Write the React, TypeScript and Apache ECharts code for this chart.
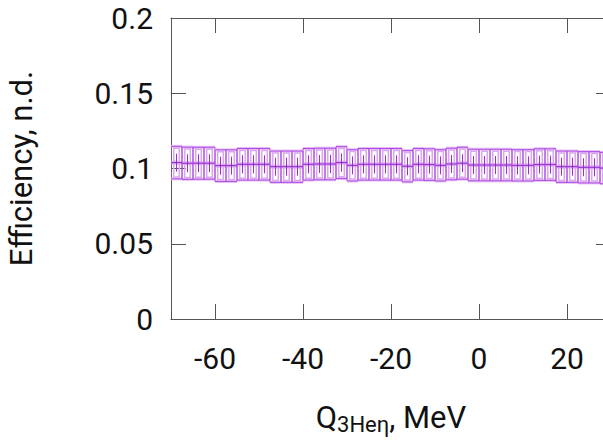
import React, { useEffect, useRef } from "react";
import * as echarts from "echarts";

const binCenters = [
  -68.75, -66.25, -63.75, -61.25, -58.75, -56.25, -53.75, -51.25, -48.75, -46.25,
  -43.75, -41.25, -38.75, -36.25, -33.75, -31.25, -28.75, -26.25, -23.75, -21.25,
  -18.75, -16.25, -13.75, -11.25, -8.75, -6.25, -3.75, -1.25, 1.25, 3.75,
  6.25, 8.75, 11.25, 13.75, 16.25, 18.75, 21.25, 23.75, 26.25, 28.75,
];
const efficiency = [
  0.1039, 0.1035, 0.1035, 0.1035, 0.1019, 0.1019, 0.1028, 0.1028, 0.1028, 0.1012,
  0.1012, 0.1012, 0.1028, 0.103, 0.103, 0.1039, 0.1021, 0.1028, 0.1028, 0.1028,
  0.1028, 0.1015, 0.1028, 0.1026, 0.1021, 0.103, 0.1035, 0.1023, 0.1023, 0.1023,
  0.1023, 0.1021, 0.1021, 0.1026, 0.1026, 0.1012, 0.1012, 0.1008, 0.1008, 0.1003,
];
const boxError = [
  0.0108, 0.0107, 0.0106, 0.0106, 0.0105, 0.0105, 0.0105, 0.0105, 0.0105, 0.0104,
  0.0104, 0.0104, 0.0105, 0.0105, 0.0105, 0.0106, 0.0104, 0.0105, 0.0105, 0.0105,
  0.0105, 0.0104, 0.0105, 0.0105, 0.0104, 0.0105, 0.0106, 0.0105, 0.0105, 0.0105,
  0.0105, 0.0104, 0.0104, 0.0105, 0.0105, 0.0104, 0.0104, 0.0104, 0.0104, 0.0104,
];
const statError = [
  0.006, 0.006, 0.006, 0.006, 0.006, 0.006, 0.006, 0.006, 0.006, 0.006,
  0.006, 0.006, 0.006, 0.006, 0.006, 0.006, 0.006, 0.006, 0.006, 0.006,
  0.006, 0.006, 0.006, 0.006, 0.006, 0.006, 0.006, 0.006, 0.006, 0.006,
  0.006, 0.006, 0.006, 0.006, 0.006, 0.006, 0.006, 0.006, 0.006, 0.006,
];
const xTicks = [-60, -40, -20, 0, 20];
const binWidth = 2.5;

const FONT = "Roboto";
const AXIS_COLOR = "#555555";
const TEXT_COLOR = "#111111";

export default function App() {
  const ref = useRef<HTMLDivElement>(null);
  useEffect(() => {
    if (!ref.current) return;
    const chart = echarts.init(ref.current, null, { renderer: "svg" });
    const data = binCenters.map((c, i) => [c, efficiency[i], boxError[i], statError[i]]);
    const axisLine = { show: true, onZero: false, lineStyle: { color: AXIS_COLOR, width: 1 } };
    const axisTick = { show: true, inside: true, length: 15, lineStyle: { color: AXIS_COLOR, width: 1 } };
    chart.setOption({
      animation: false,
      backgroundColor: "#ffffff",
      grid: {
        left: 171,
        top: 18,
        width: 440,
        height: 301,
        containLabel: false,
        outerBoundsMode: "none",
      },
      xAxis: [
        {
          type: "value",
          min: -70,
          max: 30,
          position: "bottom",
          axisLine,
          axisTick: { ...axisTick, customValues: xTicks },
          splitLine: { show: false },
          axisLabel: {
            customValues: xTicks,
            fontFamily: FONT,
            fontSize: 30,
            color: TEXT_COLOR,
            margin: 24,
          },
          name: "{a|Q}{b|3Heη}{a|, MeV}",
          nameLocation: "middle",
          nameGap: 80,
          nameTextStyle: {
            rich: {
              a: { fontFamily: FONT, fontSize: 31, color: TEXT_COLOR, lineHeight: 36 },
              b: { fontFamily: FONT, fontSize: 22, color: TEXT_COLOR, lineHeight: 36, padding: [15, 0, 0, 0] },
            },
          },
        },
        {
          type: "value",
          min: -70,
          max: 30,
          position: "top",
          axisLine,
          axisTick: { ...axisTick, customValues: xTicks },
          splitLine: { show: false },
          axisLabel: { show: false },
        },
      ],
      yAxis: [
        {
          type: "value",
          min: 0,
          max: 0.2,
          interval: 0.05,
          position: "left",
          axisLine,
          axisTick,
          splitLine: { show: false },
          axisLabel: { fontFamily: FONT, fontSize: 30, color: TEXT_COLOR, margin: 18 },
          name: "Efficiency, n.d.",
          nameLocation: "middle",
          nameGap: 134,
          nameRotate: 90,
          nameTextStyle: { fontFamily: FONT, fontSize: 31, color: TEXT_COLOR },
        },
        {
          type: "value",
          min: 0,
          max: 0.2,
          interval: 0.05,
          position: "right",
          axisLine,
          axisTick,
          splitLine: { show: false },
          axisLabel: { show: false },
        },
      ],
      series: [
        {
          type: "custom",
          clip: true,
          xAxisIndex: 0,
          yAxisIndex: 0,
          data,
          renderItem: (params: any, api: any) => {
            const c = api.value(0);
            const v = api.value(1);
            const e = api.value(2);
            const s = api.value(3);
            const h = binWidth / 2;
            const tl = api.coord([c - h, v + e]);
            const br = api.coord([c + h, v - e]);
            const itl = api.coord([c - h * 0.5, v + e * 0.88]);
            const ibr = api.coord([c + h * 0.5, v - e * 0.88]);
            const sTop = api.coord([c, v + s]);
            const sBot = api.coord([c, v - s]);
            const left = api.coord([c - h, v]);
            const right = api.coord([c + h, v]);
            return {
              type: "group",
              children: [
                {
                  type: "line",
                  shape: { x1: left[0], y1: left[1], x2: right[0], y2: right[1] },
                  style: { stroke: "#dcb2f0", lineWidth: 4 },
                },
                {
                  type: "rect",
                  shape: { x: tl[0], y: tl[1] - 1.5, width: br[0] - tl[0], height: 3 },
                  style: { fill: "#e2bff3", stroke: null },
                },
                {
                  type: "rect",
                  shape: { x: tl[0], y: br[1] - 1.5, width: br[0] - tl[0], height: 3 },
                  style: { fill: "#e2bff3", stroke: null },
                },
                {
                  type: "rect",
                  shape: { x: itl[0], y: itl[1], width: ibr[0] - itl[0], height: ibr[1] - itl[1] },
                  style: { fill: "none", stroke: "#d9a8ef", lineWidth: 1.5 },
                },
                {
                  type: "rect",
                  shape: { x: tl[0], y: tl[1], width: br[0] - tl[0], height: br[1] - tl[1] },
                  style: { fill: "none", stroke: "#b24ae6", lineWidth: 1 },
                },
                {
                  type: "line",
                  shape: { x1: sTop[0], y1: sTop[1], x2: sBot[0], y2: sBot[1] },
                  style: { stroke: "#9a2fd6", lineWidth: 1 },
                },
                {
                  type: "line",
                  shape: { x1: left[0], y1: left[1], x2: right[0], y2: right[1] },
                  style: { stroke: "#8e24c8", lineWidth: 1 },
                },
              ],
            };
          },
        },
      ],
    });
    return () => chart.dispose();
  }, []);
  return (
    <div
      style={{
        position: "fixed",
        left: 0,
        top: 0,
        width: 603,
        height: 441,
        overflow: "hidden",
        background: "#ffffff",
      }}
    >
      <div ref={ref} style={{ width: 620, height: 441 }} />
    </div>
  );
}
